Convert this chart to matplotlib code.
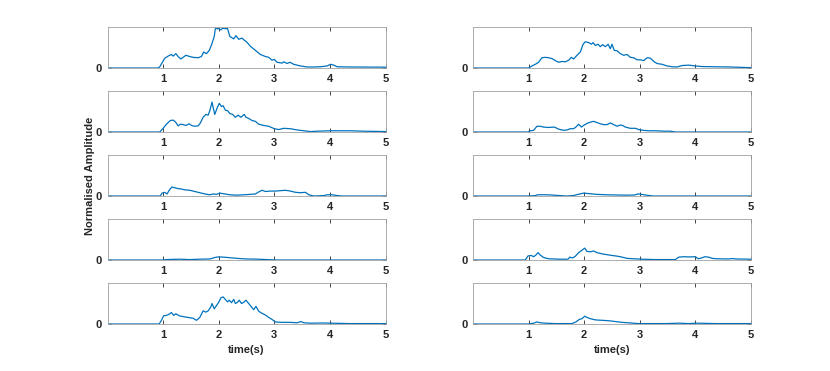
import matplotlib
matplotlib.use("Agg")
import matplotlib.pyplot as plt

plt.rcParams['font.family'] = ['Liberation Sans', 'DejaVu Sans']

# (time s, normalised amplitude)
left1 = [(0, 0), (0.91, 0), (0.94, 0.03), (1.03, 0.24), (1.09, 0.29), (1.15, 0.33), (1.18, 0.29), (1.23, 0.35),
         (1.27, 0.28), (1.32, 0.22), (1.36, 0.26), (1.41, 0.31), (1.48, 0.28), (1.54, 0.26), (1.63, 0.25),
         (1.69, 0.28), (1.73, 0.39), (1.78, 0.35), (1.83, 0.43), (1.87, 0.56), (1.92, 0.77), (1.94, 0.96),
         (2.0, 0.96), (2.04, 0.93), (2.07, 0.97), (2.11, 0.96), (2.16, 0.96), (2.2, 0.77), (2.27, 0.71),
         (2.31, 0.79), (2.36, 0.70), (2.42, 0.73), (2.45, 0.69), (2.5, 0.64), (2.57, 0.53), (2.66, 0.43),
         (2.75, 0.33), (2.84, 0.28), (2.9, 0.26), (2.96, 0.19), (3.0, 0.21), (3.05, 0.14), (3.14, 0.12),
         (3.17, 0.15), (3.23, 0.11), (3.28, 0.14), (3.35, 0.09), (3.47, 0.05), (3.59, 0.025), (3.71, 0.025),
         (3.83, 0.03), (3.95, 0.05), (4.01, 0.09), (4.07, 0.07), (4.13, 0.03), (4.37, 0.025), (5.0, 0.02)]
left2 = [(0, 0), (0.94, 0), (1.0, 0.09), (1.06, 0.19), (1.13, 0.28), (1.18, 0.29), (1.22, 0.25), (1.27, 0.15),
         (1.31, 0.19), (1.36, 0.18), (1.41, 0.16), (1.47, 0.20), (1.51, 0.16), (1.57, 0.14), (1.63, 0.15),
         (1.67, 0.22), (1.72, 0.36), (1.77, 0.43), (1.81, 0.41), (1.84, 0.52), (1.88, 0.73), (1.9, 0.60),
         (1.93, 0.43), (1.97, 0.58), (2.01, 0.70), (2.05, 0.62), (2.08, 0.64), (2.12, 0.53), (2.16, 0.52),
         (2.2, 0.45), (2.25, 0.43), (2.3, 0.36), (2.35, 0.41), (2.4, 0.36), (2.46, 0.43), (2.49, 0.36),
         (2.54, 0.33), (2.6, 0.28), (2.66, 0.26), (2.72, 0.19), (2.81, 0.16), (2.9, 0.14), (3.0, 0.08),
         (3.08, 0.06), (3.17, 0.09), (3.29, 0.08), (3.41, 0.05), (3.53, 0.03), (3.65, 0.01), (3.77, 0.02),
         (4.01, 0.03), (4.37, 0.03), (4.6, 0.02), (5.0, 0.01)]
left3 = [(0, 0), (0.95, 0), (0.98, 0.07), (1.03, 0.09), (1.07, 0.05), (1.12, 0.16), (1.16, 0.22), (1.21, 0.20),
         (1.27, 0.18), (1.33, 0.17), (1.39, 0.15), (1.48, 0.14), (1.57, 0.11), (1.66, 0.08), (1.75, 0.05),
         (1.84, 0.03), (1.9, 0.05), (1.96, 0.04), (2.02, 0.07), (2.11, 0.05), (2.2, 0.03), (2.33, 0.02),
         (2.45, 0.03), (2.57, 0.04), (2.66, 0.05), (2.72, 0.10), (2.78, 0.14), (2.84, 0.11), (2.93, 0.12),
         (3.02, 0.12), (3.11, 0.13), (3.2, 0.14), (3.29, 0.12), (3.38, 0.09), (3.47, 0.08), (3.56, 0.09),
         (3.62, 0.03), (3.71, 0), (3.89, 0.01), (3.95, 0.03), (4.04, 0.03), (4.13, 0.01), (4.22, 0), (5.0, 0)]
left4 = [(0, 0), (1.0, 0), (1.06, 0.01), (1.3, 0.02), (1.48, 0.01), (1.66, 0.02), (1.84, 0.025), (1.93, 0.06),
         (1.99, 0.075), (2.08, 0.07), (2.17, 0.06), (2.33, 0.04), (2.5, 0.025), (2.69, 0.02), (2.87, 0.01),
         (3.05, 0), (5.0, 0)]
left5 = [(0, 0), (0.93, 0), (0.97, 0.09), (1.01, 0.20), (1.06, 0.21), (1.11, 0.24), (1.15, 0.28), (1.19, 0.21),
         (1.23, 0.25), (1.29, 0.20), (1.36, 0.18), (1.45, 0.16), (1.54, 0.14), (1.6, 0.09), (1.66, 0.16),
         (1.72, 0.32), (1.77, 0.29), (1.81, 0.32), (1.86, 0.42), (1.88, 0.50), (1.92, 0.37), (1.96, 0.45),
         (2.0, 0.53), (2.04, 0.64), (2.08, 0.66), (2.12, 0.60), (2.16, 0.54), (2.19, 0.58), (2.23, 0.52),
         (2.27, 0.60), (2.3, 0.50), (2.34, 0.53), (2.37, 0.58), (2.41, 0.50), (2.45, 0.53), (2.49, 0.58),
         (2.54, 0.50), (2.58, 0.43), (2.63, 0.35), (2.67, 0.43), (2.72, 0.31), (2.78, 0.26), (2.84, 0.22),
         (2.9, 0.16), (2.96, 0.11), (3.02, 0.05), (3.14, 0.04), (3.29, 0.04), (3.41, 0.03), (3.48, 0.06),
         (3.53, 0.03), (3.65, 0.02), (3.89, 0.025), (4.01, 0.02), (4.37, 0.01), (5.0, 0.01)]

right1 = [(0, 0), (1.0, 0), (1.06, 0.05), (1.12, 0.09), (1.18, 0.14), (1.24, 0.25), (1.3, 0.26), (1.36, 0.25),
          (1.42, 0.23), (1.48, 0.18), (1.54, 0.14), (1.6, 0.16), (1.66, 0.15), (1.72, 0.19), (1.77, 0.26),
          (1.81, 0.22), (1.87, 0.31), (1.93, 0.39), (1.98, 0.58), (2.02, 0.64), (2.08, 0.62), (2.13, 0.58),
          (2.16, 0.62), (2.2, 0.55), (2.25, 0.58), (2.29, 0.52), (2.33, 0.57), (2.38, 0.52), (2.43, 0.58),
          (2.47, 0.47), (2.5, 0.58), (2.54, 0.43), (2.59, 0.42), (2.65, 0.35), (2.71, 0.31), (2.77, 0.33),
          (2.83, 0.26), (2.89, 0.25), (2.95, 0.20), (3.01, 0.20), (3.07, 0.18), (3.13, 0.25), (3.19, 0.24),
          (3.25, 0.16), (3.31, 0.11), (3.4, 0.09), (3.49, 0.05), (3.58, 0.03), (3.67, 0.025), (3.76, 0.06),
          (3.88, 0.07), (4.0, 0.05), (4.12, 0.035), (4.36, 0.03), (4.6, 0.025), (4.96, 0.01), (5.0, 0.01)]
right2 = [(0, 0), (0.99, 0), (1.03, 0.03), (1.09, 0.04), (1.15, 0.14), (1.21, 0.14), (1.27, 0.12), (1.36, 0.11),
          (1.45, 0.12), (1.48, 0.11), (1.54, 0.07), (1.63, 0.04), (1.69, 0.05), (1.75, 0.08), (1.81, 0.08),
          (1.85, 0.12), (1.9, 0.19), (1.95, 0.12), (1.99, 0.16), (2.05, 0.21), (2.11, 0.24), (2.17, 0.26),
          (2.23, 0.23), (2.29, 0.20), (2.35, 0.18), (2.41, 0.18), (2.47, 0.22), (2.53, 0.18), (2.59, 0.14),
          (2.65, 0.17), (2.69, 0.16), (2.74, 0.12), (2.83, 0.09), (2.92, 0.09), (2.98, 0.06), (3.07, 0.04),
          (3.16, 0.03), (3.28, 0.03), (3.43, 0.02), (3.55, 0.02), (3.64, 0), (5.0, 0)]
right3 = [(0, 0), (1.0, 0), (1.12, 0.01), (1.16, 0.03), (1.24, 0.03), (1.32, 0.03), (1.41, 0.025), (1.56, 0.01),
          (1.68, 0), (1.8, 0.01), (1.89, 0.04), (1.99, 0.07), (2.07, 0.06), (2.22, 0.04), (2.4, 0.03),
          (2.58, 0.025), (2.76, 0.02), (2.91, 0.025), (2.97, 0.05), (3.03, 0.04), (3.12, 0.02), (3.24, 0), (5.0, 0)]
right4 = [(0, 0), (0.94, 0), (0.99, 0.10), (1.05, 0.11), (1.09, 0.08), (1.13, 0.12), (1.17, 0.18), (1.21, 0.12),
          (1.27, 0.06), (1.36, 0.03), (1.54, 0.02), (1.71, 0.02), (1.74, 0.07), (1.79, 0.05), (1.84, 0.09),
          (1.9, 0.18), (1.96, 0.24), (2.01, 0.29), (2.05, 0.21), (2.11, 0.20), (2.17, 0.22), (2.23, 0.18),
          (2.32, 0.15), (2.41, 0.13), (2.5, 0.11), (2.56, 0.10), (2.65, 0.08), (2.77, 0.04), (2.89, 0.03),
          (3.04, 0.02), (3.28, 0.01), (3.64, 0.01), (3.7, 0.07), (3.79, 0.08), (3.88, 0.075), (4.0, 0.08),
          (4.05, 0.03), (4.11, 0.05), (4.17, 0.08), (4.24, 0.07), (4.3, 0.04), (4.39, 0.03), (4.6, 0.025),
          (4.66, 0.035), (4.75, 0.025), (4.96, 0.02), (5.0, 0.02)]
right5 = [(0, 0), (1.0, 0), (1.09, 0.02), (1.15, 0.05), (1.21, 0.03), (1.3, 0.02), (1.48, 0.01), (1.78, 0.01),
          (1.85, 0.05), (1.91, 0.11), (1.96, 0.13), (2.01, 0.19), (2.05, 0.16), (2.11, 0.13), (2.2, 0.10),
          (2.32, 0.09), (2.44, 0.08), (2.56, 0.06), (2.68, 0.04), (2.83, 0.025), (2.98, 0.01), (3.46, 0.01),
          (3.7, 0.02), (3.88, 0.01), (4.03, 0.02), (4.36, 0.01), (5.0, 0.01)]

left_col = [left1, left2, left3, left4, left5]
right_col = [right1, right2, right3, right4, right5]
xticks = [1, 2, 3, 4, 5]

W, H = 830, 371
fig = plt.figure(figsize=(W / 100, H / 100), dpi=100)

line_col = '#0072BD'
axis_col = '#262626'
row_bottoms = [68, 132, 196, 260, 324]   # pixel rows of the zero lines
ax_h = 41
col_lefts = [107.5, 473]
ax_w = 278

for ci, col in enumerate([left_col, right_col]):
    for ri, series in enumerate(col):
        x0 = col_lefts[ci] / W
        y0 = 1 - row_bottoms[ri] / H
        ax = fig.add_axes([x0, y0, ax_w / W, ax_h / H])
        t, v = zip(*series)
        ax.plot(t, v, color=line_col, lw=0.9)
        ax.set_xlim(0, 5)
        ax.set_ylim(0, 1)
        ax.set_xticks(xticks)
        ax.set_yticks([0])
        ax.tick_params(direction='in', length=3, width=0.6, colors=axis_col,
                       labelsize=8, top=True, right=True, pad=4)
        for lab in ax.get_xticklabels() + ax.get_yticklabels():
            lab.set_fontweight('bold')
        for s in ax.spines.values():
            s.set_color('#a0a0a0')
            s.set_linewidth(0.6)
        if ri == 4:
            ax.set_xlabel('time(s)', fontsize=8, fontweight='bold', color=axis_col, labelpad=4)

fig.text(90 / W, 1 - 176 / H, 'Normalised Amplitude', rotation=90, ha='center', va='center',
         fontsize=8, fontweight='bold', color=axis_col)

fig.savefig('out.png', dpi=100)
